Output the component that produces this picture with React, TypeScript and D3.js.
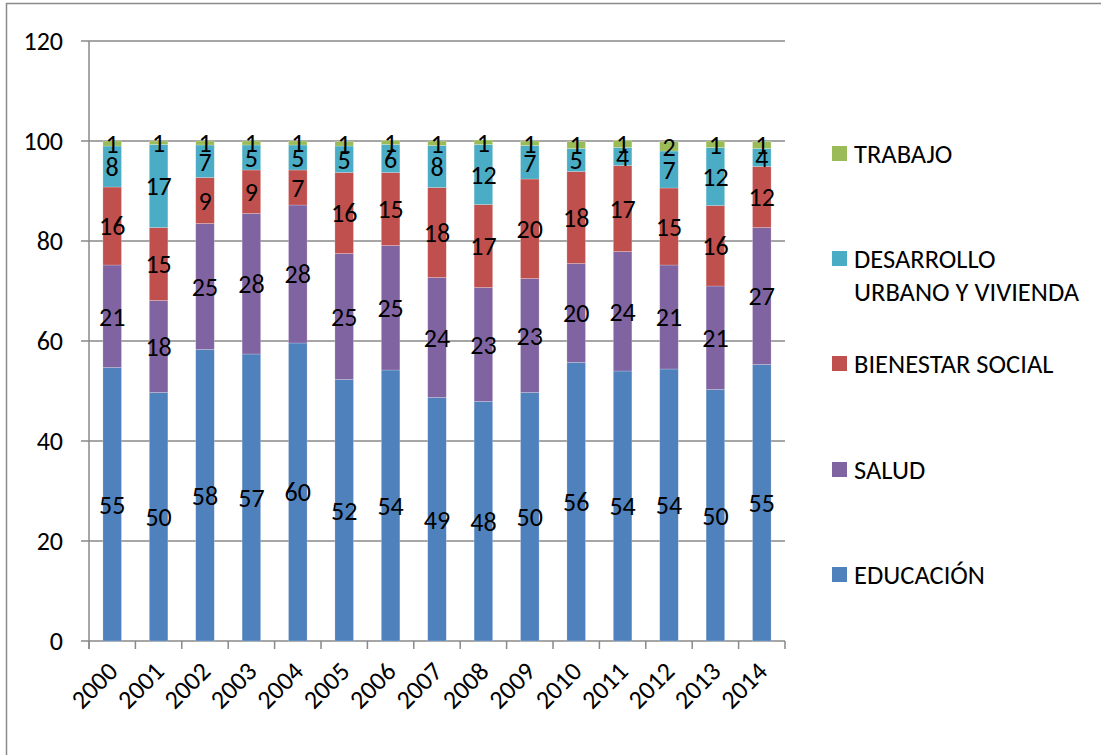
import { useRef, useEffect } from "react";
import * as d3 from "d3";

const years = ["2000", "2001", "2002", "2003", "2004", "2005", "2006", "2007", "2008", "2009", "2010", "2011", "2012", "2013", "2014"];
const educacion = [54.7, 49.7, 58.3, 57.4, 59.6, 52.3, 54.2, 48.7, 47.9, 49.7, 55.7, 54.0, 54.4, 50.3, 55.3];
const salud = [20.5, 18.4, 25.2, 28.1, 27.6, 25.2, 24.9, 24.0, 22.8, 22.8, 19.8, 23.9, 20.8, 20.7, 27.4];
const bienestar = [15.6, 14.6, 9.2, 8.7, 7.0, 16.2, 14.6, 18.0, 16.6, 19.9, 18.4, 17.2, 15.4, 16.1, 12.2];
const desarrollo = [8.2, 16.6, 6.5, 5.0, 5.0, 5.3, 5.6, 8.4, 12.0, 6.7, 4.6, 3.6, 7.4, 11.6, 3.6];
const trabajo = [1.0, 0.7, 0.8, 0.8, 0.8, 0.9, 0.8, 0.9, 0.9, 0.9, 1.4, 1.4, 1.9, 1.3, 1.4];
const yTicks = [0, 20, 40, 60, 80, 100, 120];

const seriesNames = ["EDUCACIÓN", "SALUD", "BIENESTAR SOCIAL", "DESARROLLO URBANO Y VIVIENDA", "TRABAJO"];
const seriesValues = [educacion, salud, bienestar, desarrollo, trabajo];
const colors = ["#4F81BD", "#8064A2", "#C0504D", "#4BACC6", "#9BBB59"];

const FONT = "Carlito, Calibri, Lato, sans-serif";
const NUM_SIZE = 26;

export default function App() {
  const ref = useRef<HTMLDivElement | null>(null);

  useEffect(() => {
    if (!ref.current) return;
    const container = ref.current;
    container.innerHTML = "";

    const W = 1101, H = 755;
    const left = 89, right = 785, top = 41, bottom = 641;

    const svg = d3.select(container).append("svg")
      .attr("width", W)
      .attr("height", H)
      .style("display", "block")
      .style("font-family", FONT);

    svg.append("rect").attr("width", W).attr("height", H).attr("fill", "#fff");
    // outer frame
    svg.append("rect").attr("x", 6.5).attr("y", 3.5).attr("width", W + 20).attr("height", H + 20)
      .attr("fill", "none").attr("stroke", "#8a8a8a").attr("stroke-width", 1.5);

    const x = d3.scaleBand<string>().domain(years).range([left, right]).paddingInner(0.6).paddingOuter(0.3);
    const y = d3.scaleLinear().domain([0, 120]).range([bottom, top]);

    // grid
    const grid = svg.append("g");
    yTicks.forEach(t => {
      grid.append("line").attr("x1", left - 8).attr("x2", right)
        .attr("y1", y(t)).attr("y2", y(t))
        .attr("stroke", "#898989").attr("stroke-width", 1.5);
      grid.append("text").attr("x", 63).attr("y", y(t)).attr("dy", "0.36em")
        .attr("text-anchor", "end").attr("font-size", NUM_SIZE).attr("fill", "#000").text(t);
    });
    grid.append("line").attr("x1", left).attr("x2", left).attr("y1", top).attr("y2", bottom + 8)
      .attr("stroke", "#898989").attr("stroke-width", 1.5);
    const step = x.step();
    d3.range(years.length + 1).forEach(i => {
      const tx = left + i * step;
      grid.append("line").attr("x1", tx).attr("x2", tx).attr("y1", bottom).attr("y2", bottom + 8)
        .attr("stroke", "#898989").attr("stroke-width", 1.5);
    });

    // stacked data
    const table = years.map((yr, i) => {
      const row: any = { year: yr };
      seriesNames.forEach((s, j) => { row[s] = seriesValues[j][i]; });
      return row;
    });
    const stack = d3.stack<any>().keys(seriesNames)(table);

    const bars = svg.append("g");
    stack.forEach((layer, j) => {
      bars.selectAll(null).data(layer).enter().append("rect")
        .attr("x", d => x(d.data.year) as number)
        .attr("width", x.bandwidth())
        .attr("y", d => y(d[1]))
        .attr("height", d => y(d[0]) - y(d[1]))
        .attr("fill", colors[j])
        .attr("stroke", "rgba(255,255,255,0.35)")
        .attr("stroke-width", 0.6);
    });
    stack.forEach(layer => {
      bars.selectAll(null).data(layer).enter().append("text")
        .attr("x", d => (x(d.data.year) as number) + x.bandwidth() / 2)
        .attr("y", d => y((d[0] + d[1]) / 2))
        .attr("dy", "0.36em")
        .attr("text-anchor", "middle")
        .attr("font-size", NUM_SIZE)
        .attr("fill", "#000")
        .text(d => Math.round(d[1] - d[0]));
    });

    // x labels
    years.forEach(yr => {
      const cx = (x(yr) as number) + x.bandwidth() / 2;
      svg.append("text")
        .attr("transform", `translate(${cx + 7},${bottom + 32}) rotate(-45)`)
        .attr("text-anchor", "end")
        .attr("font-size", NUM_SIZE)
        .attr("fill", "#000")
        .text(yr);
    });

    // legend (top to bottom: reverse order)
    const legendItems = [
      { name: ["TRABAJO"], color: colors[4], cy: 153 },
      { name: ["DESARROLLO", "URBANO Y VIVIENDA"], color: colors[3], cy: 258 },
      { name: ["BIENESTAR SOCIAL"], color: colors[2], cy: 363 },
      { name: ["SALUD"], color: colors[1], cy: 469 },
      { name: ["EDUCACIÓN"], color: colors[0], cy: 574 },
    ];
    const legend = svg.append("g");
    legendItems.forEach(it => {
      legend.append("rect").attr("x", 832).attr("y", it.cy - 7).attr("width", 15).attr("height", 15).attr("fill", it.color);
      it.name.forEach((line, k) => {
        legend.append("text").attr("x", 854).attr("y", it.cy + k * 33).attr("dy", "0.36em")
          .attr("font-size", 26.5).attr("fill", "#000").text(line);
      });
    });

    return () => { svg.remove(); };
  }, []);

  return <div ref={ref} style={{ position: "absolute", left: 0, top: 0, width: 1101, height: 755 }} />;
}
